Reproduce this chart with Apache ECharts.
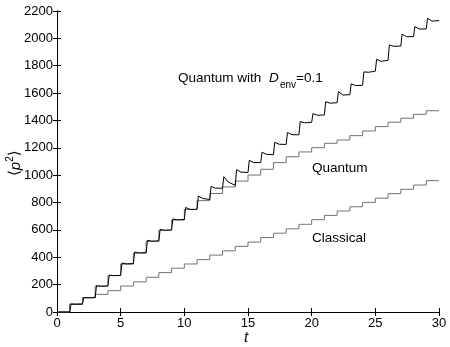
<!DOCTYPE html>
<html>
<head>
<meta charset="utf-8">
<script src="https://cdn.jsdelivr.net/npm/echarts@6/dist/echarts.min.js"></script>
<style>
  html, body { margin: 0; padding: 0; background: #fff; }
  #chart { width: 450px; height: 347px; }
</style>
</head>
<body>
<div id="chart"></div>
<script>
// kick number t = 0..29, value held from t until next kick
const kicks = [0,1,2,3,4,5,6,7,8,9,10,11,12,13,14,15,16,17,18,19,20,21,22,23,24,25,26,27,28,29];
const classical = [0,58,105,129,156,190,220,254,288,320,351,383,416,447,480,511,544,576,608,641,675,706,738,769,801,832,865,897,928,960];
const quantum = [0,58,105,190,266,350,430,516,596,672,749,814,866,914,957,1001,1043,1092,1135,1170,1201,1233,1257,1289,1323,1355,1387,1416,1445,1471];
// D_env = 0.1 : value right after the kick, mid-period dip, value before next kick
const envPeak = [0,58,105,192,270,358,438,524,604,680,764,848,918,989,1040,1108,1168,1240,1312,1392,1450,1537,1611,1667,1755,1847,1952,2030,2086,2147];
const envDip  = [0,56,104,188,266,352,432,518,598,674,750,830,905,950,1022,1092,1152,1226,1296,1383,1438,1526,1586,1655,1752,1832,1942,2012,2068,2126];
const envEnd  = [0,58,105,190,268,354,434,520,600,676,751,822,905,925,1020,1092,1150,1225,1295,1386,1440,1530,1588,1657,1760,1840,1944,2013,2069,2130];
const tEnd = 30;

const stepData = (vals) => {
  const pts = kicks.map((t, i) => [t, vals[i]]);
  pts.push([tEnd, vals[vals.length - 1]]);
  return pts;
};

const envData = () => {
  const pts = [[0, envEnd[0]]];
  for (let i = 1; i < kicks.length; i++) {
    const t = kicks[i];
    pts.push([t, envEnd[i - 1]]);
    pts.push([t + 0.1, envPeak[i]]);
    pts.push([t + 0.45, envDip[i]]);
  }
  pts.push([tEnd, envEnd[envEnd.length - 1]]);
  return pts;
};

const font = "'Liberation Sans', Arial, 'DejaVu Sans', sans-serif";
const axisBase = {
  type: "value",
  axisLine: { show: true, lineStyle: { color: "#000", width: 1 } },
  axisTick: { show: true, inside: true, length: 4, lineStyle: { color: "#000" } },
  splitLine: { show: false },
};

const chart = echarts.init(document.getElementById("chart"));
chart.setOption({
  animation: false,
  grid: { left: 57, right: 11, top: 11, bottom: 35 },
  xAxis: [
    { ...axisBase, min: 0, max: 30, interval: 5,
      axisLabel: { color: "#000", fontSize: 13, fontFamily: font, margin: 5 } },
    { ...axisBase, position: "top", min: 0, max: 30, interval: 5, axisLabel: { show: false } },
  ],
  yAxis: [
    { ...axisBase, min: 0, max: 2200, interval: 200,
      axisLabel: { color: "#000", fontSize: 13, fontFamily: font, margin: 4, formatter: (v) => String(v) } },
    { ...axisBase, position: "right", min: 0, max: 2200, interval: 200, axisLabel: { show: false } },
  ],
  series: [
    { type: "line", name: "Classical", step: "end", data: stepData(classical), showSymbol: false,
      lineStyle: { color: "#737373", width: 1 } },
    { type: "line", name: "Quantum", step: "end", data: stepData(quantum), showSymbol: false,
      lineStyle: { color: "#737373", width: 1 } },
    { type: "line", name: "Quantum with Denv=0.1", data: envData(), showSymbol: false,
      lineStyle: { color: "#000", width: 1 } },
  ],
  graphic: [
    { type: "text", left: 178, top: 71, style: { text: "Quantum with", fontSize: 13.5, fontFamily: font, fill: "#000" } },
    { type: "text", left: 269, top: 71, style: { text: "D", fontSize: 13.5, fontStyle: "italic", fontFamily: font, fill: "#000" } },
    { type: "text", left: 280, top: 80, style: { text: "env", fontSize: 10, fontFamily: font, fill: "#000" } },
    { type: "text", left: 296, top: 71, style: { text: "=0.1", fontSize: 13.5, fontFamily: font, fill: "#000" } },
    { type: "text", left: 312, top: 161, style: { text: "Quantum", fontSize: 13.5, fontFamily: font, fill: "#000" } },
    { type: "text", left: 312, top: 231, style: { text: "Classical", fontSize: 13.5, fontFamily: font, fill: "#000" } },
    { type: "text", left: 244, top: 330, style: { text: "t", fontSize: 15, fontStyle: "italic", fontFamily: font, fill: "#000" } },
    {
      type: "text", x: 5, y: 176, rotation: Math.PI / 2,
      style: {
        text: "{a|\u27E8}{i|p}{s|2}{a|\u27E9}",
        fill: "#000",
        rich: {
          a: { fontSize: 15, fontFamily: "'DejaVu Sans', sans-serif", lineHeight: 18, verticalAlign: "bottom" },
          i: { fontSize: 15, fontFamily: font, fontStyle: "italic", lineHeight: 18, verticalAlign: "bottom" },
          s: { fontSize: 10, fontFamily: font, lineHeight: 18, verticalAlign: "top" },
        },
      },
    },
  ],
});
</script>
</body>
</html>
